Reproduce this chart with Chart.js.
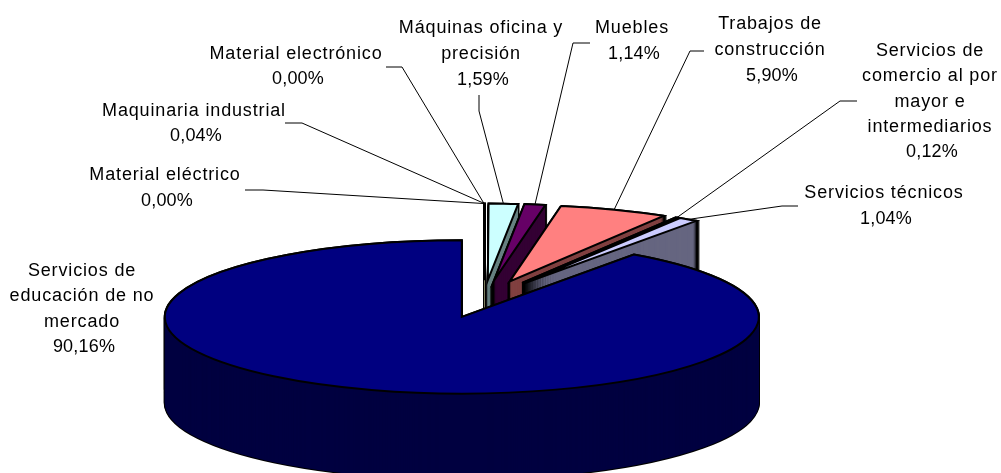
<!DOCTYPE html>
<html><head><meta charset="utf-8">
<style>html,body{margin:0;padding:0;background:#fff}canvas{display:block}</style>
<script src="https://cdn.jsdelivr.net/npm/chart.js@4"></script></head>
<body><canvas id="c" width="1001" height="473"></canvas>
<script>
const categories = ["Material eléctrico","Material electrónico","Maquinaria industrial","Máquinas oficina y precisión","Muebles","Trabajos de construcción","Servicios de comercio al por mayor e intermediarios","Servicios técnicos","Servicios de educación de no mercado"];
const shares = [0.00,0.00,0.04,1.59,1.14,5.90,0.12,1.04,90.16];
const topColors = ["#9999FF","#993366","#FFFFCC","#CCFFFF","#660066","#FF8080","#0066CC","#CCCCFF","#000080"];
const wallColors = ["#4D4D80","#4D1A33","#808066","#668080","#330033","#804040","#003366","#666680","#000040"];
const labelLines = [["Material eléctrico"],["Material electrónico"],["Maquinaria industrial"],["Máquinas oficina y","precisión"],["Muebles"],["Trabajos de","construcción"],["Servicios de","comercio al por","mayor e","intermediarios"],["Servicios técnicos"],["Servicios de","educación de no","mercado"]];
// label block: centre x, first line centre y, line step
const labelPlace = [[165,175,26],[296,54,25],[194,111,25],[481,28,26],[632,28,26],[770,24,26],[930,51,25.3],[884,193,26],[82,271,25.3]];
// leader: start and elbow next to the label, ending on the slice rim
const leaderStart = [[245,190,263,190],[386,67,402,67],[285,123,302,123],[479,95,479,111],[590,43,573,43],[704,51,690,51],[857,101,840,101],[798,206,782,206],null];

const FLAT = 0.258, RADIUS = 297, EXPLODE = 73, DEPTH = 86;
const fmt = v => v.toFixed(2).replace('.',',') + '%';

const pie3d = {
  id:'pie3d',
  beforeDatasetsDraw(chart){
    const ctx = chart.ctx, arcs = chart.getDatasetMeta(0).data;
    const cy = arcs[0].y;
    const nativeFill = ctx.fill;
    const stamp = (arc,dy,color,lw)=>{
      const mid=(arc.startAngle+arc.endAngle)/2;
      ctx.save();
      ctx.translate(0,cy+dy); ctx.scale(1,FLAT); ctx.translate(0,-cy);
      ctx.translate(Math.cos(mid)*EXPLODE,Math.sin(mid)*EXPLODE);
      ctx.fill = function(){
        if(color){ this.fillStyle=color; nativeFill.call(this); }
        if(lw){ this.save(); this.setTransform(1,0,0,1,0,0); this.lineWidth=lw; this.strokeStyle='#000'; this.lineJoin='miter'; this.stroke(); this.restore(); }
      };
      arc.draw(ctx);
      delete ctx.fill;
      ctx.restore();
    };
    arcs.forEach((arc,i)=>{
      for(let d=DEPTH;d>=0;d--) stamp(arc,d,null,2);
      for(let d=DEPTH;d>=0;d--) stamp(arc,d,wallColors[i],0);
      stamp(arc,0,topColors[i],2);
    });
    // leaders
    ctx.save();
    ctx.strokeStyle='#000'; ctx.lineWidth=1;
    arcs.forEach((arc,i)=>{
      const s = leaderStart[i]; if(!s) return;
      const mid=(arc.startAngle+arc.endAngle)/2, r=RADIUS+EXPLODE;
      ctx.beginPath(); ctx.moveTo(s[0],s[1]); ctx.lineTo(s[2],s[3]);
      ctx.lineTo(arc.x+Math.cos(mid)*r, cy+Math.sin(mid)*r*FLAT);
      ctx.stroke();
    });
    // labels
    ctx.fillStyle='#000'; ctx.font='18px "Liberation Sans", Arial, sans-serif';
    ctx.textAlign='center'; ctx.textBaseline='middle';
    categories.forEach((c,i)=>{
      const [x,y,step]=labelPlace[i];
      ctx.letterSpacing='0.85px';
      labelLines[i].forEach((t,j)=>ctx.fillText(t,x,y+j*step));
      ctx.letterSpacing='0.2px';
      ctx.fillText(fmt(shares[i]),x+2,y+labelLines[i].length*step);
    });
    ctx.restore();
    return false;
  }
};

new Chart(document.getElementById('c'),{
  type:'pie',
  data:{labels:categories,datasets:[{data:shares,backgroundColor:topColors,borderWidth:0}]},
  options:{responsive:false,animation:false,radius:RADIUS,rotation:0,
    layout:{padding:{left:0,right:33,top:125,bottom:0}},
    events:[],
    plugins:{legend:{display:false},tooltip:{enabled:false},title:{display:false}}},
  plugins:[pie3d]
});
</script></body></html>
